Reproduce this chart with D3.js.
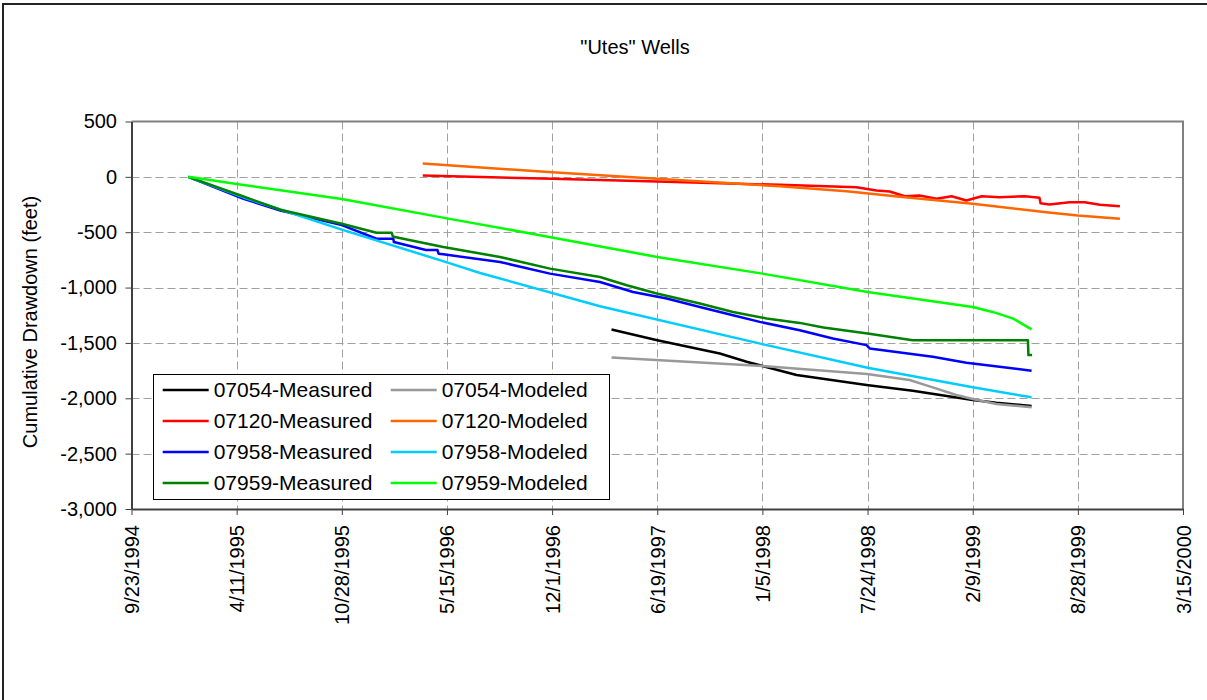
<!DOCTYPE html>
<html>
<head>
<meta charset="utf-8">
<script src="https://cdn.jsdelivr.net/npm/d3@7"></script>
<style>
  body { margin: 0; background: #fff; }
  svg { display: block; }
  text { font-family: Arial, "Liberation Sans", sans-serif; fill: #000; }
</style>
</head>
<body>
<svg id="chart" width="1207" height="700"></svg>
<script>
// ---------------- DATA ----------------
const chartTitle = '"Utes" Wells';
const yAxisTitle = 'Cumulative Drawdown (feet)';
const xTickLabels = ["9/23/1994","4/11/1995","10/28/1995","5/15/1996","12/1/1996","6/19/1997","1/5/1998","7/24/1998","2/9/1999","8/28/1999","3/15/2000"];
const yTickValues = [500, 0, -500, -1000, -1500, -2000, -2500, -3000];

const seriesNames = ["07054-Measured","07054-Modeled","07120-Measured","07120-Modeled","07958-Measured","07958-Modeled","07959-Measured","07959-Modeled"];
const seriesColors = ["#000000","#999999","#FF0000","#FF6600","#0000FF","#00CCFF","#008000","#00FF00"];

const s07054Measured = [["3/24/1997",-1378],["6/19/1997",-1475],["10/16/1997",-1595],["12/6/1997",-1670],["3/11/1998",-1790],["7/22/1998",-1880],["10/18/1998",-1931],["2/9/1999",-2015],["3/26/1999",-2040],["6/1/1999",-2069]];
const s07054Modeled = [["3/24/1997",-1631],["1/5/1998",-1709],["7/23/1998",-1781],["10/12/1998",-1835],["11/25/1998",-1901],["1/9/1999",-1970],["2/9/1999",-2006],["3/26/1999",-2051],["6/1/1999",-2081]];
const s07120Measured = [["3/30/1996",12],["12/1/1996",-18],["6/19/1997",-42],["2/7/1998",-72],["7/3/1998",-94],["8/10/1998",-123],["9/4/1998",-132],["10/3/1998",-175],["10/31/1998",-168],["12/2/1998",-198],["12/31/1998",-175],["1/28/1999",-213],["2/26/1999",-175],["4/1/1999",-184],["5/19/1999",-175],["6/16/1999",-189],["6/18/1999",-238],["7/5/1999",-250],["8/12/1999",-229],["9/10/1999",-229],["10/9/1999",-252],["11/16/1999",-265]];
const s07120Modeled = [["3/30/1996",120],["12/1/1996",41],["6/19/1997",-18],["2/7/1998",-85],["6/14/1998",-130],["10/3/1998",-184],["2/9/1999",-243],["6/29/1999",-319],["8/28/1999",-349],["11/16/1999",-378]];
const s07958Measured = [["1/9/1995",0],["4/24/1995",-198],["7/3/1995",-304],["10/28/1995",-436],["1/2/1996",-559],["2/3/1996",-559],["2/4/1996",-589],["4/5/1996",-661],["4/27/1996",-661],["4/29/1996",-694],["5/8/1996",-700],["8/24/1996",-769],["11/27/1996",-874],["3/2/1997",-950],["5/4/1997",-1040],["7/7/1997",-1099],["9/8/1997",-1175],["11/10/1997",-1250],["12/31/1997",-1310],["3/17/1998",-1385],["5/19/1998",-1460],["7/22/1998",-1520],["7/28/1998",-1550],["11/25/1998",-1625],["1/28/1999",-1679],["4/1/1999",-1715],["6/1/1999",-1751]];
const s07958Modeled = [["1/9/1995",0],["4/24/1995",-186],["10/28/1995",-477],["5/15/1996",-772],["7/17/1996",-868],["3/2/1997",-1168],["1/5/1998",-1511],["7/24/1998",-1724],["2/9/1999",-1901],["6/1/1999",-1991]];
const s07959Measured = [["1/9/1995",0],["4/24/1995",-177],["7/3/1995",-297],["10/28/1995",-423],["1/2/1996",-505],["1/31/1996",-505],["2/2/1996",-538],["2/15/1996",-553],["5/8/1996",-634],["8/24/1996",-724],["11/27/1996",-829],["3/2/1997",-904],["4/22/1997",-979],["6/18/1997",-1054],["9/8/1997",-1144],["11/10/1997",-1220],["1/13/1998",-1279],["3/17/1998",-1319],["5/1/1998",-1360],["7/24/1998",-1414],["10/18/1998",-1475],["5/25/1999",-1475],["5/26/1999",-1610],["6/2/1999",-1610]];
const s07959Modeled = [["1/9/1995",0],["4/11/1995",-65],["10/28/1995",-200],["5/15/1996",-375],["10/13/1996",-504],["6/19/1997",-724],["1/5/1998",-874],["7/24/1998",-1040],["2/9/1999",-1175],["3/19/1999",-1220],["4/27/1999",-1280],["6/1/1999",-1378]];

const seriesData = [s07054Measured, s07054Modeled, s07120Measured, s07120Modeled, s07958Measured, s07958Modeled, s07959Measured, s07959Modeled];

// ---------------- LAYOUT ----------------
const W = 1207, H = 700;
const plot = { left: 131.5, right: 1183, top: 121.5, bottom: 509 };
const parse = d3.utcParse("%m/%d/%Y");
const xTickDates = xTickLabels.map(parse);

const svg = d3.select("#chart");

// outer chart border (extends beyond the picture)
svg.append("rect").attr("x", 3).attr("y", 4).attr("width", 1260).attr("height", 720)
  .attr("fill", "#fff").attr("stroke", "#222").attr("stroke-width", 2);

const x = d3.scaleUtc().domain([xTickDates[0], xTickDates[xTickDates.length - 1]]).range([plot.left, plot.right]);
const y = d3.scaleLinear().domain([-3000, 500]).range([plot.bottom, plot.top]);

const locale = d3.formatLocale({ decimal: ".", thousands: ",", grouping: [3], currency: ["$", ""], minus: "-" });
const fmt = locale.format(",");

// gridlines
const grid = svg.append("g").attr("stroke", "#a0a0a0").attr("stroke-width", 1).attr("stroke-dasharray", "8,4");
grid.selectAll("line.v").data(xTickDates.slice(1, -1)).join("line")
  .attr("x1", d => Math.round(x(d)) + 0.5).attr("x2", d => Math.round(x(d)) + 0.5)
  .attr("y1", plot.top).attr("y2", plot.bottom);
grid.selectAll("line.h").data(yTickValues.filter(v => v !== 500 && v !== -3000)).join("line")
  .attr("x1", plot.left).attr("x2", plot.right)
  .attr("y1", d => Math.round(y(d)) + 0.5).attr("y2", d => Math.round(y(d)) + 0.5);

// top & right border of plot
svg.append("path")
  .attr("d", `M${plot.left},${plot.top}H${plot.right}V${plot.bottom}`)
  .attr("fill", "none").attr("stroke", "#808080").attr("stroke-width", 2);

// series lines
const line = d3.line().x(d => x(parse(d[0]))).y(d => y(d[1]));
svg.append("g").selectAll("path").data(seriesData).join("path")
  .attr("d", d => line(d))
  .attr("fill", "none")
  .attr("stroke", (d, i) => seriesColors[i])
  .attr("stroke-width", 2.5)
  .attr("stroke-linejoin", "round")
  .attr("stroke-linecap", "butt");

// y axis
const yAxis = svg.append("g").attr("transform", `translate(${plot.left},0)`)
  .call(d3.axisLeft(y).tickValues(yTickValues).tickFormat(fmt).tickSize(6).tickSizeOuter(0).tickPadding(8.5));
yAxis.select(".domain").attr("stroke", "#404040").attr("stroke-width", 2);
yAxis.selectAll(".tick line").attr("stroke", "#404040").attr("stroke-width", 1);
yAxis.selectAll(".tick text").attr("font-size", 20).attr("font-family", "Arial, 'Liberation Sans', sans-serif").attr("fill", "#000");

// x axis
const xAxis = svg.append("g").attr("transform", `translate(0,${plot.bottom})`)
  .call(d3.axisBottom(x).tickValues(xTickDates).tickFormat((d, i) => xTickLabels[i]).tickSize(6).tickSizeOuter(0));
xAxis.select(".domain").attr("stroke", "#404040").attr("stroke-width", 2);
xAxis.selectAll(".tick line").attr("stroke", "#404040").attr("stroke-width", 1);
xAxis.selectAll(".tick text")
  .attr("font-size", 20).attr("font-family", "Arial, 'Liberation Sans', sans-serif").attr("fill", "#000")
  .attr("transform", "rotate(-90)")
  .attr("text-anchor", "end")
  .attr("x", -16).attr("y", 0).attr("dy", "0.35em");

// titles
svg.append("text").attr("x", 635).attr("y", 54).attr("text-anchor", "middle")
  .attr("font-size", 20).text(chartTitle);
svg.append("text").attr("transform", "translate(30.5,322) rotate(-90)").attr("text-anchor", "middle")
  .attr("dy", "0.32em").attr("font-size", 20).text(yAxisTitle);

// legend
const legend = svg.append("g");
legend.append("rect").attr("x", 153.5).attr("y", 374.5).attr("width", 456).attr("height", 125)
  .attr("fill", "#fff").attr("stroke", "#000").attr("stroke-width", 1);
seriesNames.forEach((name, i) => {
  const col = i % 2, row = Math.floor(i / 2);
  const lx = col === 0 ? 162.7 : 390.7;
  const ly = 390 + row * 31;
  legend.append("line").attr("x1", lx).attr("x2", lx + 46).attr("y1", ly).attr("y2", ly)
    .attr("stroke", seriesColors[i]).attr("stroke-width", 2.5);
  legend.append("text").attr("x", lx + 51).attr("y", ly).attr("dy", "0.35em")
    .attr("font-size", 21).text(name);
});
</script>
</body>
</html>
